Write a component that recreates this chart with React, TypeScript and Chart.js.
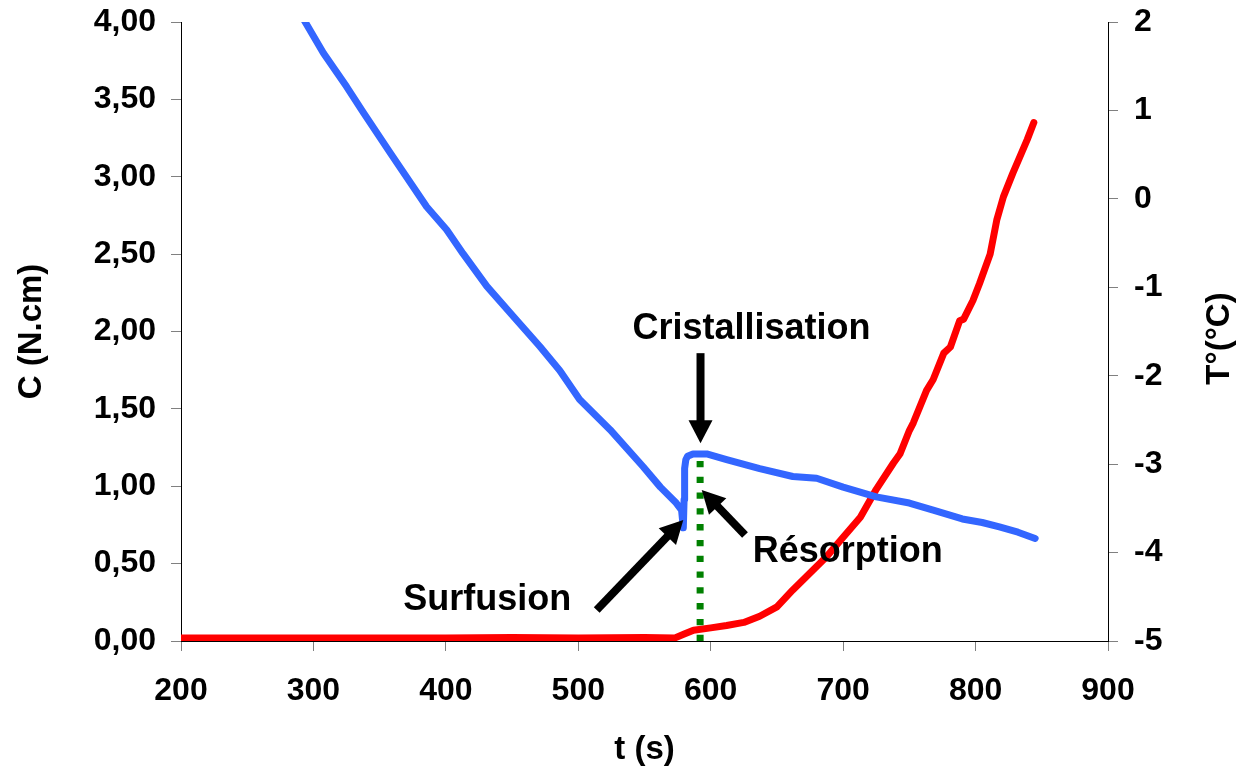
import React, { useEffect, useRef } from "react";
import { Chart, registerables } from "chart.js";

Chart.register(...registerables);

// ---- Data ----
const xTickValues = [200, 300, 400, 500, 600, 700, 800, 900];

// Temperature T (°C), right axis (blue)
const tempTime = [293, 307.5, 325, 338, 358, 385.5, 400.6, 413, 431, 451, 471, 486, 501, 524, 549, 562, 574, 578, 579.3, 579.9, 580.3, 581.2, 582.5, 586.6, 597, 612, 637, 662, 680, 700, 725, 750, 768, 790, 805, 818, 832, 845];
const tempValues = [2.02, 1.65, 1.27, 0.97, 0.52, -0.09, -0.35, -0.62, -0.99, -1.33, -1.67, -1.94, -2.27, -2.61, -3.03, -3.26, -3.44, -3.52, -3.72, -3.4, -3.05, -2.95, -2.91, -2.885, -2.885, -2.95, -3.05, -3.14, -3.16, -3.26, -3.37, -3.44, -3.52, -3.62, -3.66, -3.71, -3.77, -3.84];

// Torque C (N.cm), left axis (red)
const torqueTime = [200, 250, 300, 350, 400, 450, 500, 550, 573, 580, 587, 600, 612, 625, 637, 650, 662, 675, 688, 700, 713, 725, 738, 743, 750, 753, 763, 768, 776, 781, 788, 791, 798, 803, 811, 816, 821, 828, 839, 844];
const torqueValues = [0.02, 0.02, 0.02, 0.02, 0.02, 0.022, 0.02, 0.022, 0.02, 0.045, 0.07, 0.085, 0.1, 0.12, 0.16, 0.22, 0.33, 0.44, 0.55, 0.67, 0.8, 0.98, 1.15, 1.21, 1.36, 1.41, 1.62, 1.69, 1.86, 1.9, 2.07, 2.08, 2.2, 2.31, 2.5, 2.72, 2.87, 3.02, 3.24, 3.35];

// Green dotted crystallisation marker (time, C range)
const crystTime = 592;
const crystLevels = [0, 1.17];

// Annotations (data coordinates: time, C)
const annotationTexts = ["Cristallisation", "Surfusion", "Résorption"];
const annotationTime = [630.8, 367.9, 631.7];
const annotationLevel = [1.95, 0.2, 0.512];
const annotationAlign = ["center", "left", "left"];
const arrowTailTime = [592.3, 513.9, 625.9];
const arrowTailLevel = [1.86, 0.2, 0.685];
const arrowTipTime = [592.3, 579.3, 593.2];
const arrowTipLevel = [1.278, 0.782, 0.976];

const FONT = '"Liberation Sans", Arial, Helvetica, sans-serif';

function drawArrow(ctx: CanvasRenderingContext2D, x1: number, y1: number, x2: number, y2: number) {
  const dx = x2 - x1;
  const dy = y2 - y1;
  const len = Math.hypot(dx, dy);
  const ux = dx / len;
  const uy = dy / len;
  const headLen = 23;
  const headW = 12;
  const bx = x2 - ux * headLen;
  const by = y2 - uy * headLen;
  ctx.lineWidth = 8;
  ctx.lineCap = "butt";
  ctx.beginPath();
  ctx.moveTo(x1, y1);
  ctx.lineTo(bx + ux * 1, by + uy * 1);
  ctx.stroke();
  ctx.beginPath();
  ctx.moveTo(x2, y2);
  ctx.lineTo(bx - uy * headW, by + ux * headW);
  ctx.lineTo(bx + uy * headW, by - ux * headW);
  ctx.closePath();
  ctx.fill();
}

const annotationPlugin = {
  id: "annotations",
  afterDraw(chart: any) {
    const { ctx, scales, chartArea } = chart;
    const xs = scales.x;
    const ys = scales.yC;
    ctx.save();
    ctx.fillStyle = "#000";
    ctx.strokeStyle = "#000";
    ctx.font = `bold 36px ${FONT}`;
    ctx.textBaseline = "alphabetic";
    annotationTexts.forEach((t, i) => {
      ctx.textAlign = annotationAlign[i] as CanvasTextAlign;
      ctx.fillText(t, xs.getPixelForValue(annotationTime[i]), ys.getPixelForValue(annotationLevel[i]));
    });
    for (let i = 0; i < arrowTailTime.length; i++) {
      drawArrow(
        ctx,
        xs.getPixelForValue(arrowTailTime[i]),
        ys.getPixelForValue(arrowTailLevel[i]),
        xs.getPixelForValue(arrowTipTime[i]),
        ys.getPixelForValue(arrowTipLevel[i])
      );
    }
    // right axis title, reading bottom-to-top
    ctx.font = `bold 33px ${FONT}`;
    ctx.translate(chartArea.right + 112, (chartArea.top + chartArea.bottom) / 2 + 7);
    ctx.rotate(-Math.PI / 2);
    ctx.textAlign = "center";
    ctx.textBaseline = "middle";
    ctx.fillText("T°(°C)", 0, 0);
    ctx.restore();
  },
};

function noScalePadding(s: any) {
  s.paddingTop = 0;
  s.paddingBottom = 0;
  s.paddingLeft = 0;
  s.paddingRight = 0;
}

export default function App() {
  const canvasRef = useRef<HTMLCanvasElement | null>(null);

  useEffect(() => {
    document.body.style.margin = "0";
    const canvas = canvasRef.current;
    if (!canvas) return;
    const tickFont = { family: FONT, size: 32, weight: "bold" as const };
    const titleFont = { family: FONT, size: 33, weight: "bold" as const };
    const chart = new Chart(canvas, {
      type: "line",
      data: {
        datasets: [
          {
            label: "T",
            data: tempTime.map((t, i) => ({ x: t, y: tempValues[i] })),
            yAxisID: "yT",
            borderColor: "#3366FF",
            borderWidth: 7,
            pointRadius: 0,
            tension: 0,
            borderCapStyle: "round",
            borderJoinStyle: "round",
          },
          {
            label: "cryst",
            data: crystLevels.map((v) => ({ x: crystTime, y: v })),
            yAxisID: "yC",
            borderColor: "#008000",
            borderWidth: 7,
            borderDash: [6.3, 9.5],
            borderCapStyle: "butt",
            pointRadius: 0,
          },
          {
            label: "C",
            data: torqueTime.map((t, i) => ({ x: t, y: torqueValues[i] })),
            yAxisID: "yC",
            borderColor: "#FF0000",
            borderWidth: 7,
            pointRadius: 0,
            tension: 0,
            borderCapStyle: "round",
            borderJoinStyle: "round",
          },
        ],
      },
      options: {
        responsive: false,
        animation: false,
        layout: { padding: { top: 22, left: 0, right: 0, bottom: 0 } },
        plugins: { legend: { display: false }, tooltip: { enabled: false } },
        scales: {
          x: {
            type: "linear",
            position: "bottom",
            min: 200,
            max: 900,
            afterBuildTicks: (s: any) => {
              s.ticks = xTickValues.map((v) => ({ value: v }));
            },
            ticks: { font: tickFont, color: "#000", padding: 21, maxRotation: 0, callback: (v: any) => String(v) },
            grid: { drawOnChartArea: false, drawTicks: true, tickLength: 10, color: "#808080" },
            border: { display: true, color: "#000", width: 1 },
            title: { display: true, text: "t (s)", font: titleFont, color: "#000", padding: { top: 0, bottom: 0 } },
            afterFit: (s: any) => {
              s.height = 129;
              noScalePadding(s);
            },
          },
          yC: {
            type: "linear",
            position: "left",
            min: 0,
            max: 4,
            ticks: {
              stepSize: 0.5,
              font: tickFont,
              color: "#000",
              padding: 15,
              callback: (v: any) => Number(v).toFixed(2).replace(".", ","),
            },
            grid: { drawOnChartArea: false, drawTicks: true, tickLength: 10, color: "#808080" },
            border: { display: true, color: "#000", width: 1 },
            title: { display: true, text: "C (N.cm)", font: titleFont, color: "#000", padding: { top: 12, bottom: 0 } },
            afterFit: (s: any) => {
              s.width = 181;
              noScalePadding(s);
            },
          },
          yT: {
            type: "linear",
            position: "right",
            min: -5,
            max: 2,
            ticks: { stepSize: 1, font: tickFont, color: "#000", padding: 16, callback: (v: any) => String(v) },
            grid: { drawOnChartArea: false, drawTicks: true, tickLength: 10, color: "#808080" },
            border: { display: true, color: "#000", width: 1 },
            afterFit: (s: any) => {
              s.width = 130;
              noScalePadding(s);
            },
          },
        },
      },
      plugins: [annotationPlugin],
    } as any);
    return () => chart.destroy();
  }, []);

  return (
    <div style={{ width: 1238, height: 770 }}>
      <canvas ref={canvasRef} width={1238} height={770} style={{ display: "block" }} />
    </div>
  );
}
